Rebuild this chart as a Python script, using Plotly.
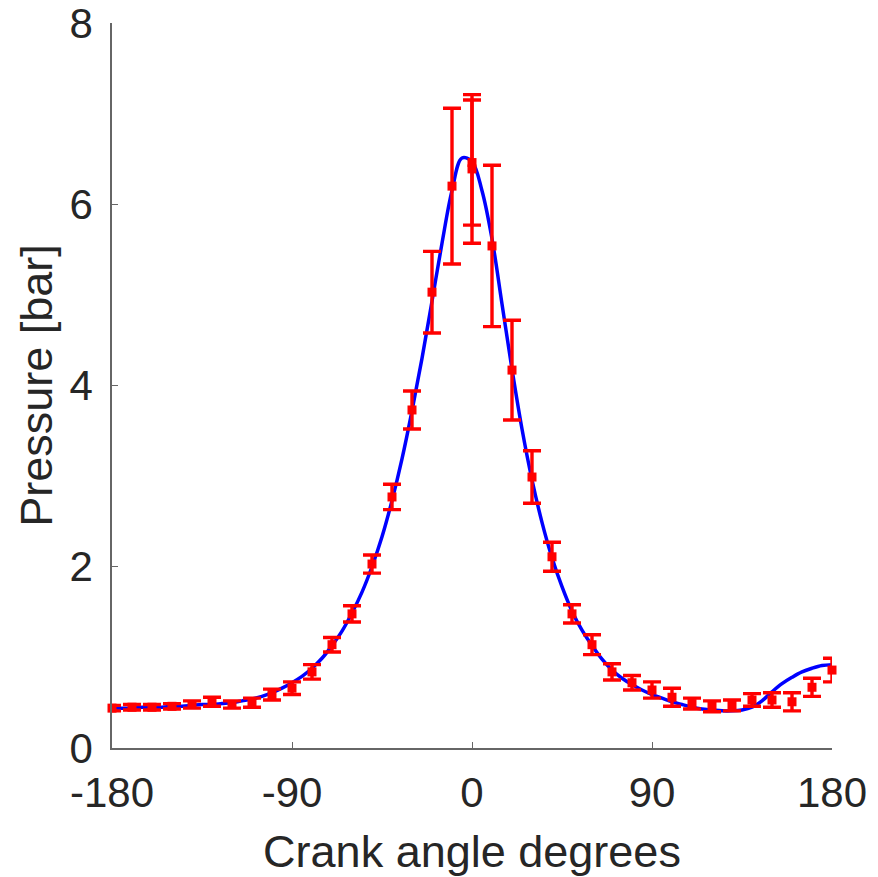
import plotly.graph_objects as go

# Measured points (every 10 degrees)
angles = [-180, -170, -160, -150, -140, -130, -120, -110, -100, -90, -80, -70, -60, -50,
          -40, -30, -20, -10, 0, 10, 20, 30, 40, 50, 60, 70, 80, 90, 100, 110, 120, 130,
          140, 150, 160, 170, 180]
pressure = [0.44, 0.45, 0.45, 0.46, 0.48, 0.51, 0.48, 0.50, 0.59, 0.66, 0.84, 1.14, 1.48, 2.03,
            2.77, 3.73, 5.03, 6.20, 6.46, 5.54, 4.17, 2.99, 2.11, 1.48, 1.14, 0.84, 0.72, 0.64,
            0.56, 0.49, 0.46, 0.47, 0.53, 0.53, 0.51, 0.67, 0.86]
pressure_err = [0.03, 0.03, 0.03, 0.03, 0.04, 0.05, 0.04, 0.05, 0.06, 0.07, 0.08, 0.08, 0.09, 0.10,
                0.14, 0.21, 0.45, 0.86, 0.69, 0.89, 0.55, 0.29, 0.16, 0.10, 0.11, 0.09, 0.08, 0.09,
                0.10, 0.06, 0.06, 0.06, 0.07, 0.08, 0.10, 0.10, 0.13]

# Second measurement at top dead centre
extra_angle = [0]
extra_pressure = [6.39]
extra_err = [0.82]

# Model curve (every 5 degrees)
curve_angle = list(range(-180, 181, 5))
curve_pressure = [0.44, 0.44, 0.44, 0.45, 0.45, 0.45, 0.46, 0.46, 0.47, 0.48, 0.48, 0.49, 0.50,
                  0.52, 0.54, 0.57, 0.61, 0.66, 0.72, 0.79, 0.88, 0.99, 1.13, 1.29, 1.49, 1.72,
                  2.00, 2.33, 2.73, 3.19, 3.72, 4.30, 4.93, 5.57, 6.15, 6.51, 6.47, 6.15, 5.62,
                  4.90, 4.18, 3.52, 2.96, 2.49, 2.10, 1.78, 1.51, 1.30, 1.13, 0.98, 0.86, 0.77,
                  0.70, 0.64, 0.59, 0.55, 0.51, 0.48, 0.45, 0.43, 0.42, 0.41, 0.41, 0.42, 0.45,
                  0.52, 0.62, 0.71, 0.78, 0.84, 0.88, 0.91, 0.92]

x_ticks = [-180, -90, 0, 90, 180]
y_ticks = [0, 2, 4, 6, 8]

RED = "#ff0000"
BLUE = "#0000ff"
TXT = "#262626"
FONT = "Liberation Sans, Arial, sans-serif"

fig = go.Figure()
fig.add_trace(go.Scatter(x=curve_angle, y=curve_pressure, mode="lines",
                         line=dict(color=BLUE, width=3.5, shape="spline", smoothing=1.0),
                         showlegend=False, cliponaxis=False))
for xs, ys, es in [(angles, pressure, pressure_err), (extra_angle, extra_pressure, extra_err)]:
    fig.add_trace(go.Scatter(x=xs, y=ys, mode="markers",
                             marker=dict(color=RED, symbol="square", size=9),
                             error_y=dict(type="data", array=es, visible=True, color=RED,
                                          thickness=3.4, width=9),
                             showlegend=False, cliponaxis=False))

# page body has an 8px margin, so the figure is sized to fit inside the window
fig.update_layout(
    width=870, height=869,
    margin=dict(l=104, r=46, t=15, b=129),
    paper_bgcolor="white", plot_bgcolor="white",
    font=dict(family=FONT, color=TXT, size=42),
)
fig.update_xaxes(range=[-180, 180], tickvals=x_ticks, ticktext=[str(v) for v in x_ticks],
                 automargin=False, ticklabeloverflow="allow",
                 showgrid=False, zeroline=False, showline=True, linecolor="#666666", linewidth=1.5,
                 ticks="inside", ticklen=6, tickcolor="#666666", tickwidth=1,
                 tickfont=dict(size=42, color=TXT), ticklabelstandoff=7,
                 title=dict(text="Crank angle degrees", font=dict(size=45, color=TXT), standoff=25))
fig.update_yaxes(range=[0, 8], tickvals=y_ticks, ticktext=[str(v) for v in y_ticks],
                 automargin=False, ticklabeloverflow="allow",
                 showgrid=False, zeroline=False, showline=True, linecolor="#666666", linewidth=1.5,
                 ticks="inside", ticklen=6, tickcolor="#666666", tickwidth=1,
                 tickfont=dict(size=42, color=TXT), ticklabelstandoff=9,
                 title=dict(text="Pressure [bar]", font=dict(size=45, color=TXT), standoff=3))

fig.write_html("out.html")
